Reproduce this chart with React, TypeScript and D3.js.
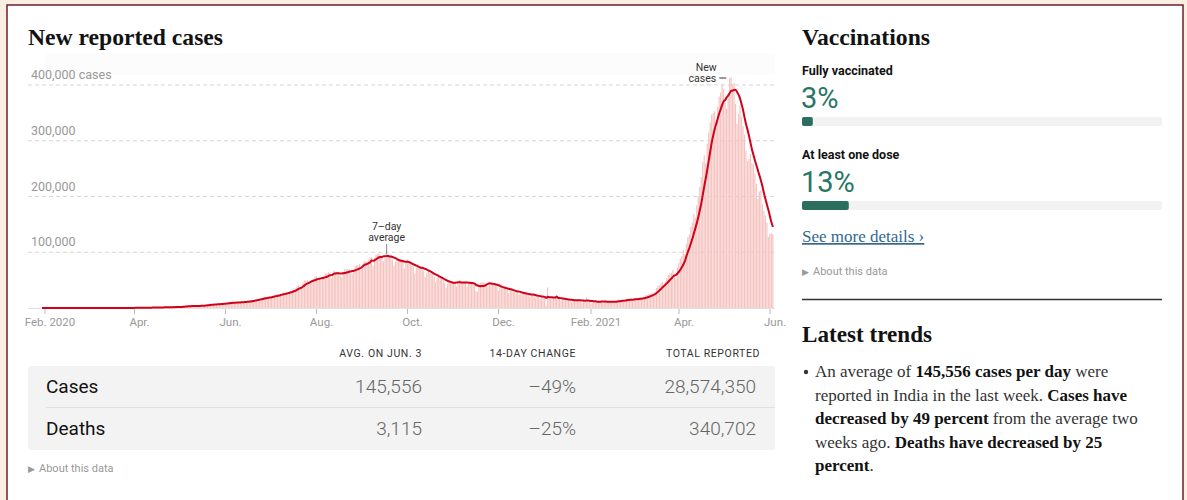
import React from "react";
import * as d3 from "d3";

// ---------- DATA (daily new reported cases, in thousands) ----------
const firstDay = new Date(2020, 0, 30);
const cases2020Jan = [0, 0];
const cases2020Feb = [0, 0, 0, 0, 0, 0, 0, 0, 0, 0, 0, 0, 0, 0, 0, 0, 0, 0, 0, 0, 0, 0, 0, 0, 0, 0, 0, 0, 0];
const cases2020Mar = [0, 0, 0, 0, 0, 0, 0, 0, 0, 0.01, 0.01, 0.01, 0.02, 0.01, 0.02, 0.01, 0.03, 0.04, 0.04, 0.06, 0.08, 0.08, 0.1, 0.1, 0.08, 0.09, 0.15, 0.13, 0.14, 0.15, 0.3];
const cases2020Apr = [0.6, 0.4, 0.5, 0.5, 0.5, 0.5, 0.4, 0.5, 0.6, 0.8, 0.9, 0.8, 0.8, 1.1, 1.0, 1.0, 1.1, 0.9, 1.4, 1.2, 1.6, 1.3, 1.7, 1.4, 1.8, 1.6, 1.6, 1.5, 1.7, 1.8];
const cases2020May = [2.4, 2.3, 2.6, 3.9, 2.9, 3.6, 3.5, 3.3, 3.3, 4.2, 3.6, 3.5, 3.7, 3.9, 3.9, 4.9, 5.0, 4.6, 5.6, 5.7, 6.1, 6.7, 6.6, 6.8, 6.5, 6.5, 7.0, 7.5, 8.0, 8.4, 8.8];
const cases2020Jun = [8.2, 8.2, 9.6, 9.9, 9.9, 10.4, 9.9, 9.0, 9.9, 10.0, 11.0, 11.5, 11.9, 11.5, 11.0, 10.7, 12.9, 13.0, 14.5, 14.9, 15.4, 14.8, 15.7, 16.9, 17.3, 18.5, 20.0, 19.9, 18.5, 18.7];
const cases2020Jul = [19.1, 20.9, 22.8, 24.0, 24.9, 22.3, 22.8, 24.9, 26.5, 27.1, 27.7, 29.1, 28.7, 28.5, 29.4, 32.7, 34.9, 34.9, 38.9, 40.4, 37.1, 37.7, 45.7, 49.3, 48.9, 49.9, 47.7, 47.7, 48.5, 52.1, 55.1];
const cases2020Aug = [57.1, 54.7, 52.9, 52.1, 52.5, 56.3, 62.5, 61.5, 64.4, 62.1, 53.6, 60.9, 66.9, 64.5, 65.0, 63.5, 57.9, 55.1, 64.5, 69.7, 68.9, 69.9, 69.2, 61.4, 60.9, 67.1, 75.8, 77.3, 76.5, 78.8, 69.2];
const cases2020Sep = [78.4, 83.0, 83.9, 83.3, 86.4, 90.6, 90.8, 75.8, 89.7, 95.7, 96.6, 97.6, 94.4, 92.1, 83.8, 90.1, 97.9, 96.4, 93.3, 92.6, 86.9, 75.1, 83.3, 86.5, 86.1, 85.4, 88.6, 82.2, 70.6, 80.5];
const cases2020Oct = [86.8, 81.5, 79.5, 75.8, 74.4, 61.3, 72.0, 78.5, 70.5, 73.3, 74.3, 66.7, 55.3, 63.5, 67.7, 63.3, 62.2, 61.9, 55.7, 46.8, 54.0, 55.8, 54.4, 53.4, 50.1, 45.1, 36.5, 43.9, 49.9, 48.6, 46.9];
const cases2020Nov = [46.9, 45.2, 38.3, 46.3, 50.2, 47.6, 46.3, 45.7, 45.9, 38.0, 44.3, 47.9, 44.9, 44.7, 41.1, 30.5, 29.1, 38.6, 45.6, 45.9, 46.2, 45.2, 44.1, 37.9, 44.4, 44.5, 43.1, 41.3, 41.8, 38.8];
const cases2020Dec = [31.1, 36.6, 35.5, 36.6, 36.6, 36.0, 32.9, 26.6, 32.1, 31.5, 29.4, 30.0, 30.3, 28.1, 24.1, 26.0, 26.0, 24.9, 25.2, 26.6, 24.3, 19.6, 23.9, 24.7, 23.1, 18.7, 22.3, 20.0, 16.4, 20.5, 21.8];
const cases2021Jan = [20.0, 4.0, 37.0, 16.5, 16.4, 18.1, 20.3, 18.1, 18.2, 18.6, 16.3, 12.6, 15.9, 16.9, 15.6, 15.1, 15.2, 13.8, 10.1, 13.8, 15.2, 14.5, 14.3, 14.8, 13.2, 9.1, 12.7, 11.7, 18.9, 13.1, 13.0];
const cases2021Feb = [8.6, 8.6, 11.0, 12.9, 12.4, 11.7, 12.1, 11.8, 9.1, 11.0, 12.9, 9.3, 12.1, 12.2, 11.6, 9.1, 11.6, 12.9, 13.2, 14.3, 14.3, 14.2, 10.6, 13.7, 16.7, 16.6, 16.5, 16.8];
const cases2021Mar = [12.3, 14.9, 17.4, 16.8, 18.3, 18.7, 18.6, 15.4, 17.9, 22.9, 23.3, 24.9, 25.3, 26.3, 24.5, 28.9, 35.9, 39.7, 40.9, 43.8, 46.9, 40.7, 47.3, 53.5, 59.1, 62.3, 62.7, 68.0, 56.2, 53.5, 72.3];
const cases2021Apr = [81.5, 89.1, 93.2, 103.6, 96.6, 115.3, 126.8, 131.9, 145.4, 152.9, 168.9, 161.7, 184.4, 200.7, 217.4, 234.7, 261.5, 273.8, 259.2, 295.0, 314.8, 332.7, 346.8, 349.7, 352.9, 323.1, 360.9, 379.3, 386.5, 401.8];
const cases2021May = [392.5, 368.1, 357.2, 382.3, 412.3, 414.2, 401.1, 403.7, 366.2, 329.9, 348.4, 362.7, 343.1, 326.1, 311.2, 281.4, 263.5, 267.3, 276.1, 259.6, 257.3, 240.8, 222.3, 195.8, 208.9, 211.3, 186.4, 173.8, 165.5, 152.7, 127.5];
const cases2021Jun = [132.8, 134.2, 132.4];

const yTicks = [100000, 200000, 300000, 400000];
const xTickLabels = ["Feb. 2020", "Apr.", "Jun.", "Aug.", "Oct.", "Dec.", "Feb. 2021", "Apr.", "Jun."];
const xTickDates = [
  new Date(2020, 1, 1), new Date(2020, 3, 1), new Date(2020, 5, 1), new Date(2020, 7, 1),
  new Date(2020, 9, 1), new Date(2020, 11, 1), new Date(2021, 1, 1), new Date(2021, 3, 1), new Date(2021, 5, 1),
];

const tableHeaders = ["AVG. ON JUN. 3", "14-DAY CHANGE", "TOTAL REPORTED"];
const tableRows = ["Cases", "Deaths"];
const avgValues = ["145,556", "3,115"];
const changeValues = ["–49%", "–25%"];
const totalValues = ["28,574,350", "340,702"];

const vaccineLabels = ["Fully vaccinated", "At least one dose"];
const vaccinePercents = [3, 13];

// ---------- BUILD SERIES ----------
const dailyK = [
  cases2020Jan, cases2020Feb, cases2020Mar, cases2020Apr, cases2020May, cases2020Jun,
  cases2020Jul, cases2020Aug, cases2020Sep, cases2020Oct, cases2020Nov, cases2020Dec,
  cases2021Jan, cases2021Feb, cases2021Mar, cases2021Apr, cases2021May, cases2021Jun,
].flat();

const daily = dailyK.map((v, i) => ({ date: d3.timeDay.offset(firstDay, i), value: v * 1000 }));
const avg7 = daily.map((d, i) => ({
  date: d.date,
  value: d3.mean(daily.slice(Math.max(0, i - 6), i + 1), (e) => e.value) as number,
}));

const SANS = "Roboto, 'Liberation Sans', Arial, sans-serif";
const SERIF = "'Liberation Serif', 'DejaVu Serif', serif";

export default function App() {
  const W = 1187, H = 500;
  const x = d3.scaleTime().domain([new Date(2020, 1, 1), new Date(2021, 5, 1)]).range([45, 770]);
  const y = d3.scaleLinear().domain([0, 400000]).range([308, 85]);
  const dayW = x(new Date(2020, 1, 2)) - x(new Date(2020, 1, 1));

  const line = d3.line<{ date: Date; value: number }>()
    .x((d) => x(d.date))
    .y((d) => y(d.value))
    .curve(d3.curveMonotoneX);

  // annotations
  const avg2020 = avg7.filter((d) => d.date < new Date(2021, 0, 1));
  const peak2020 = avg2020[d3.maxIndex(avg2020, (d) => d.value)];
  const maxDay = daily[d3.maxIndex(daily, (d) => d.value)];

  const fmt = d3.format(",");
  const vx = d3.scaleLinear().domain([0, 100]).range([0, 360]);

  const trendLines: [string, boolean][][] = [
    [["An average of ", false], ["145,556 cases per day", true], [" were", false]],
    [["reported in India in the last week. ", false], ["Cases have", true]],
    [["decreased by 49 percent", true], [" from the average two", false]],
    [["weeks ago. ", false], ["Deaths have decreased by 25", true]],
    [["percent", true], [".", false]],
  ];

  return (
    <div style={{ position: "absolute", left: 0, top: 0, width: W, height: H, overflow: "hidden" }}>
      <svg width={W} height={H} style={{ display: "block" }}>
        <rect x={0} y={0} width={W} height={H} fill="#f9eee1" />
        <rect x={7} y={5} width={1176} height={520} fill="#ffffff" stroke="#6d1f2c" strokeWidth={1.5} />

        {/* ---------- LEFT: chart ---------- */}
        <text x={28} y={45} fontFamily={SERIF} fontWeight="bold" fontSize={24} fill="#121212" textLength={195} lengthAdjust="spacingAndGlyphs">
          New reported cases
        </text>

        <rect x={45} y={53} width={730} height={22} fill="#f5f5f5" opacity={0.25} />

        {yTicks.map((t) => (
          <g key={t}>
            <line x1={28} x2={775} y1={y(t)} y2={y(t)} stroke="#d6d6d6" strokeDasharray="4,3" />
            <text x={31} y={y(t) - 6} fontFamily={SANS} fontSize={12.5} fill="#999">
              {fmt(t)}{t === 400000 ? " cases" : ""}
            </text>
          </g>
        ))}

        {/* bars */}
        {daily.map((d, i) => (
          <rect key={i} x={x(d.date) - dayW / 2} y={y(d.value)} width={Math.max(0, dayW - 0.3)} height={y(0) - y(d.value)} fill="#f5c4c0" />
        ))}

        <line x1={28} x2={775} y1={y(0) + 0.5} y2={y(0) + 0.5} stroke="#e2e2e2" />

        {/* 7-day average line */}
        <path d={line(avg7) || ""} fill="none" stroke="#d0021b" strokeWidth={2} strokeLinejoin="round" />

        {/* x axis */}
        {xTickDates.map((d, i) => (
          <g key={i}>
            <line x1={x(d)} x2={x(d)} y1={309} y2={314} stroke="#bbb" />
            <text x={x(d) + 5} y={326} textAnchor="middle" fontFamily={SANS} fontSize={11.5} fill="#999">
              {xTickLabels[i]}
            </text>
          </g>
        ))}

        {/* annotations */}
        <g fontFamily={SANS} fontSize={10.5} fill="#333">
          <text x={x(peak2020.date)} y={230} textAnchor="middle">7–day</text>
          <text x={x(peak2020.date)} y={241} textAnchor="middle">average</text>
          <line x1={x(peak2020.date)} x2={x(peak2020.date)} y1={244} y2={y(peak2020.value) - 2} stroke="#888" />
          <text x={x(maxDay.date) - 25} y={71} textAnchor="middle">New</text>
          <text x={x(maxDay.date) - 15} y={82} textAnchor="end">cases</text>
          <line x1={x(maxDay.date) - 12} x2={x(maxDay.date) - 5} y1={78} y2={78} stroke="#333" />
        </g>

        {/* table */}
        {[422, 576, 760].map((cx, i) => (
          <text key={i} x={cx} y={357} textAnchor="end" fontFamily={SANS} fontSize={10.5} letterSpacing={0.6} fill="#333">
            {tableHeaders[i]}
          </text>
        ))}
        <rect x={28} y={366} width={747} height={84} rx={3} fill="#f3f3f3" />
        <line x1={46} x2={775} y1={407.5} y2={407.5} stroke="#e0e0e0" />
        {tableRows.map((r, i) => (
          <g key={r} fontFamily={SANS} fontSize={19}>
            <text x={46} y={393 + i * 42} fill="#121212">{r}</text>
            <text x={422} y={393 + i * 42} textAnchor="end" fill="#666" fontWeight={300}>{avgValues[i]}</text>
            <text x={576} y={393 + i * 42} textAnchor="end" fill="#666" fontWeight={300}>{changeValues[i]}</text>
            <text x={756} y={393 + i * 42} textAnchor="end" fill="#666" fontWeight={300}>{totalValues[i]}</text>
          </g>
        ))}
        <text x={28} y={472} fontFamily={SANS} fontSize={11} fill="#999">
          <tspan fontSize={9}>▶</tspan>
          <tspan dx={4}>About this data</tspan>
        </text>

        {/* ---------- RIGHT: vaccinations ---------- */}
        <text x={802} y={45} fontFamily={SERIF} fontWeight="bold" fontSize={24} fill="#121212" textLength={128} lengthAdjust="spacingAndGlyphs">
          Vaccinations
        </text>
        {vaccineLabels.map((lab, i) => (
          <g key={lab} transform={`translate(802, ${i * 84})`}>
            <text x={0} y={75} fontFamily={SANS} fontWeight="bold" fontSize={12.5} fill="#121212">{lab}</text>
            <text x={-1} y={108} fontFamily={SANS} fontSize={29} fill="#2a7665">{vaccinePercents[i]}%</text>
            <rect x={0} y={117} width={vx(100)} height={9} rx={2} fill="#f2f2f2" />
            <rect x={0} y={117} width={vx(vaccinePercents[i])} height={9} rx={2} fill="#2b6e5e" />
          </g>
        ))}
        <text x={802} y={242} fontFamily={SERIF} fontSize={17} fill="#326891" textDecoration="underline">
          See more details ›
        </text>
        <text x={802} y={275} fontFamily={SANS} fontSize={11} fill="#999">
          <tspan fontSize={9}>▶</tspan>
          <tspan dx={4}>About this data</tspan>
        </text>

        <line x1={802} x2={1162} y1={299.5} y2={299.5} stroke="#333" strokeWidth={1.5} />

        <text x={802} y={342} fontFamily={SERIF} fontWeight="bold" fontSize={24} fill="#121212" textLength={130} lengthAdjust="spacingAndGlyphs">
          Latest trends
        </text>
        <circle cx={806} cy={372} r={2.2} fill="#333" />
        {trendLines.map((ln, i) => (
          <text key={i} x={815} y={377 + i * 23.5} fontFamily={SERIF} fontSize={17} fill="#333">
            {ln.map(([s, b], j) => (
              <tspan key={j} fontWeight={b ? "bold" : "normal"} fill={b ? "#121212" : "#333"}>{s}</tspan>
            ))}
          </text>
        ))}
      </svg>
    </div>
  );
}
